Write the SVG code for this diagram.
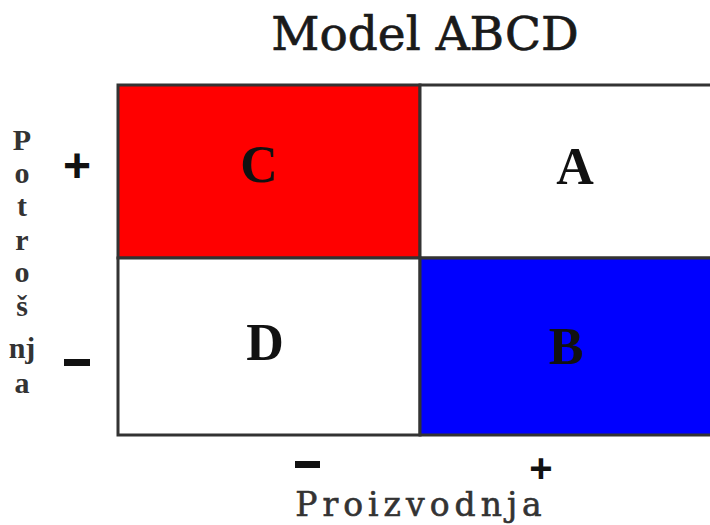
<svg xmlns="http://www.w3.org/2000/svg" width="710" height="525" viewBox="0 0 710 525">
<style>
.t{font-family:"Liberation Serif","DejaVu Serif",serif;fill:#111;}
.d{font-family:"DejaVu Serif","Liberation Serif",serif;}
.q{font-size:52px;font-weight:bold;text-anchor:middle;}
.v{font-size:30px;font-weight:bold;text-anchor:middle;fill:#333;}
.s{font-family:"Liberation Sans",sans-serif;font-weight:bold;fill:#111;text-anchor:middle;}
.cell{stroke:#333;stroke-width:3;}
</style>
<rect width="710" height="525" fill="#fff"/>
<g id="title"><text class="d" x="425" y="50" font-size="47" text-anchor="middle" fill="#1a1a1a" stroke="#1a1a1a" stroke-width="0.7">Model ABCD</text></g>
<g id="C"><rect class="cell" x="118" y="85" width="302" height="173" fill="#ff0000"/><text class="t q" x="259" y="182">C</text></g>
<g id="A"><rect class="cell" x="420" y="85" width="292" height="173" fill="#fff"/><text class="t q" x="575" y="184">A</text></g>
<g id="D"><rect class="cell" x="118" y="258" width="302" height="177" fill="#fff"/><text class="t q" x="265" y="360">D</text></g>
<g id="B"><rect class="cell" x="420" y="258" width="292" height="177" fill="#0000ff"/><text class="t q" x="566" y="364">B</text></g>
<g id="ylabel">
<text class="t v" x="22" y="150">P</text>
<text class="t v" x="22" y="183">o</text>
<text class="t v" x="22" y="216">t</text>
<text class="t v" x="22" y="250">r</text>
<text class="t v" x="22" y="282">o</text>
<text class="t v" x="22" y="316">š</text>
<text class="t v" x="22" y="358">nj</text>
<text class="t v" x="22" y="393">a</text>
</g>
<g id="yplus"><text class="s" x="77" y="182" font-size="48">+</text></g>
<g id="yminus"><rect x="64" y="359" width="26" height="7" fill="#111"/></g>
<g id="xminus"><rect x="295" y="461" width="25" height="7" fill="#111"/></g>
<g id="xplus"><text class="s" x="541" y="482" font-size="40">+</text></g>
<g id="xlabel"><text class="d" x="421" y="516" font-size="33" text-anchor="middle" letter-spacing="5" fill="#333" stroke="#333" stroke-width="0.6">Proizvodnja</text></g>
</svg>
